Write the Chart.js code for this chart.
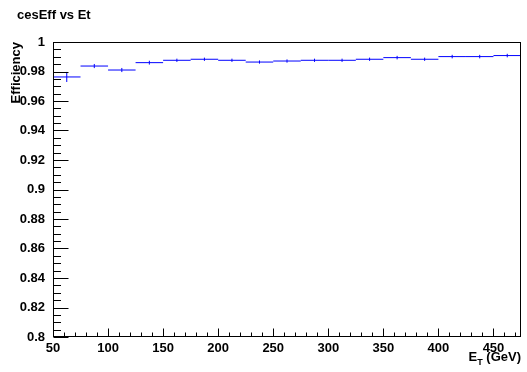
<!DOCTYPE html>
<html>
<head>
<meta charset="utf-8">
<script src="https://cdn.jsdelivr.net/npm/chart.js@4/dist/chart.umd.min.js"></script>
<style>
  html, body { margin: 0; padding: 0; background: #fff; }
  #wrap { width: 527px; height: 372px; }
</style>
</head>
<body>
<div id="wrap"><canvas id="c" width="527" height="372"></canvas></div>
<script>
// Efficiency per E_T bin (25 GeV wide bins)
const binLow = [50, 75, 100, 125, 150, 175, 200, 225, 250, 275, 300, 325, 350, 375, 400, 425, 450];
const binWidth = 25;
const efficiency = [0.9763, 0.9837, 0.9810, 0.9860, 0.9876, 0.9883, 0.9876, 0.9864, 0.9871,
                    0.9876, 0.9876, 0.9883, 0.9894, 0.9883, 0.9901, 0.9901, 0.9908];
const effError = [0.0034, 0.0014, 0.0014, 0.0013, 0.0011, 0.0011, 0.0011, 0.0011, 0.0011,
                  0.0011, 0.0011, 0.0011, 0.0012, 0.0011, 0.0012, 0.0012, 0.0012];

// Axis ticks
const xMajorTicks = [50, 100, 150, 200, 250, 300, 350, 400, 450];
const xMinorStep = 10;
const yMajorTicks = [0.8, 0.82, 0.84, 0.86, 0.88, 0.9, 0.92, 0.94, 0.96, 0.98, 1];
const yMinorStep = 0.005;

const plotTitle = 'cesEff vs Et';
const yTitle = 'Efficiency';
const xTitleMain = 'E';
const xTitleSub = 'T';
const xTitleUnit = ' (GeV)';

const FONT = '"Liberation Sans", Arial, Helvetica, sans-serif';
const LINE_BLUE = '#0000ff';

// Histogram-style drawing: horizontal bin segment plus vertical error bar
const histPlugin = {
  id: 'histPlugin',
  afterDatasetsDraw(chart) {
    const ctx = chart.ctx;
    const xs = chart.scales.x, ys = chart.scales.y;
    const ds = chart.data.datasets[0];
    ctx.save();
    ctx.strokeStyle = LINE_BLUE;
    ctx.lineWidth = 1;
    ds.data.forEach((p) => {
      const x0 = xs.getPixelForValue(p.lo);
      const x1 = xs.getPixelForValue(p.lo + binWidth);
      const xc = xs.getPixelForValue(p.x);
      const yc = ys.getPixelForValue(p.y);
      const yLo = ys.getPixelForValue(p.y - p.err);
      const yHi = ys.getPixelForValue(p.y + p.err);
      ctx.beginPath();
      ctx.moveTo(x0, yc);
      ctx.lineTo(x1, yc);
      ctx.moveTo(xc, yLo);
      ctx.lineTo(xc, yHi);
      ctx.stroke();
    });
    ctx.restore();
  }
};

// Frame, inward tick marks and titles
const framePlugin = {
  id: 'framePlugin',
  afterDraw(chart) {
    const ctx = chart.ctx;
    const a = chart.chartArea;
    const xs = chart.scales.x, ys = chart.scales.y;
    ctx.save();
    ctx.strokeStyle = '#000';
    ctx.lineWidth = 1;
    ctx.strokeRect(Math.round(a.left) + 0.5, Math.round(a.top) + 0.5,
                   Math.round(a.right - a.left) - 1, Math.round(a.bottom - a.top) - 1);

    const left = Math.round(a.left) + 0.5;
    const bottom = Math.round(a.bottom) - 0.5;
    ctx.beginPath();
    // x axis ticks
    for (let v = xs.min; v <= xs.max + 1e-9; v += xMinorStep) {
      const major = xMajorTicks.some(t => Math.abs(t - v) < 1e-6);
      const px = Math.round(xs.getPixelForValue(v)) + 0.5;
      const len = major ? 8 : 4;
      ctx.moveTo(px, bottom);
      ctx.lineTo(px, bottom - len);
    }
    // y axis ticks
    const nMinor = Math.round((ys.max - ys.min) / yMinorStep);
    for (let i = 0; i <= nMinor; i++) {
      const v = ys.min + i * yMinorStep;
      const major = yMajorTicks.some(t => Math.abs(t - v) < 1e-6);
      const py = Math.round(ys.getPixelForValue(v)) + 0.5;
      const len = major ? 15 : 7.5;
      ctx.moveTo(left, py);
      ctx.lineTo(left + len, py);
    }
    ctx.stroke();

    ctx.fillStyle = '#000';
    ctx.textBaseline = 'alphabetic';
    // plot title
    ctx.font = 'bold 13px ' + FONT;
    ctx.textAlign = 'left';
    ctx.fillText(plotTitle, 17, 19);

    // x axis title, right aligned at the end of the axis
    const mainW = ctx.measureText(xTitleMain).width;
    const unitW = ctx.measureText(xTitleUnit).width;
    ctx.font = 'bold 9px ' + FONT;
    const subW = ctx.measureText(xTitleSub).width;
    const xEnd = a.right;
    const base = 361;
    let x = xEnd - unitW - subW - mainW;
    ctx.font = 'bold 13px ' + FONT;
    ctx.fillText(xTitleMain, x, base);
    ctx.font = 'bold 9px ' + FONT;
    ctx.fillText(xTitleSub, x + mainW, base + 4);
    ctx.font = 'bold 13px ' + FONT;
    ctx.fillText(xTitleUnit, x + mainW + subW, base);

    // y axis title, rotated, aligned to the top of the axis
    ctx.save();
    ctx.translate(20, a.top);
    ctx.rotate(-Math.PI / 2);
    ctx.textAlign = 'right';
    ctx.fillText(yTitle, 0, 0);
    ctx.restore();

    ctx.restore();
  }
};

const fmt = (v) => String(parseFloat(Number(v).toFixed(3)));

new Chart(document.getElementById('c'), {
  type: 'scatter',
  data: {
    datasets: [{
      label: 'cesEff',
      data: binLow.map((lo, i) => ({ x: lo + binWidth / 2, y: efficiency[i], lo: lo, err: effError[i] })),
      pointRadius: 0,
      pointHoverRadius: 0,
      showLine: false,
      borderColor: LINE_BLUE
    }]
  },
  options: {
    responsive: false,
    animation: false,
    events: [],
    layout: { padding: { top: 42, right: 6, left: 0, bottom: 0 } },
    plugins: { legend: { display: false }, tooltip: { enabled: false }, title: { display: false } },
    scales: {
      x: {
        type: 'linear',
        min: 50,
        max: 475,
        border: { display: false },
        grid: { display: false, drawTicks: false },
        afterBuildTicks: (s) => { s.ticks = xMajorTicks.map(v => ({ value: v })); },
        afterFit: (s) => { s.height = 35; },
        ticks: {
          autoSkip: false,
          maxRotation: 0,
          padding: 4,
          color: '#000',
          font: { family: FONT, size: 13, weight: 'bold' },
          callback: (v) => fmt(v)
        }
      },
      y: {
        type: 'linear',
        min: 0.8,
        max: 1,
        border: { display: false },
        grid: { display: false, drawTicks: false },
        afterBuildTicks: (s) => { s.ticks = yMajorTicks.map(v => ({ value: v })); },
        afterFit: (s) => { s.width = 53; },
        ticks: {
          autoSkip: false,
          padding: 8,
          color: '#000',
          font: { family: FONT, size: 13, weight: 'bold' },
          callback: (v) => fmt(v)
        }
      }
    }
  },
  plugins: [histPlugin, framePlugin]
});
</script>
</body>
</html>
